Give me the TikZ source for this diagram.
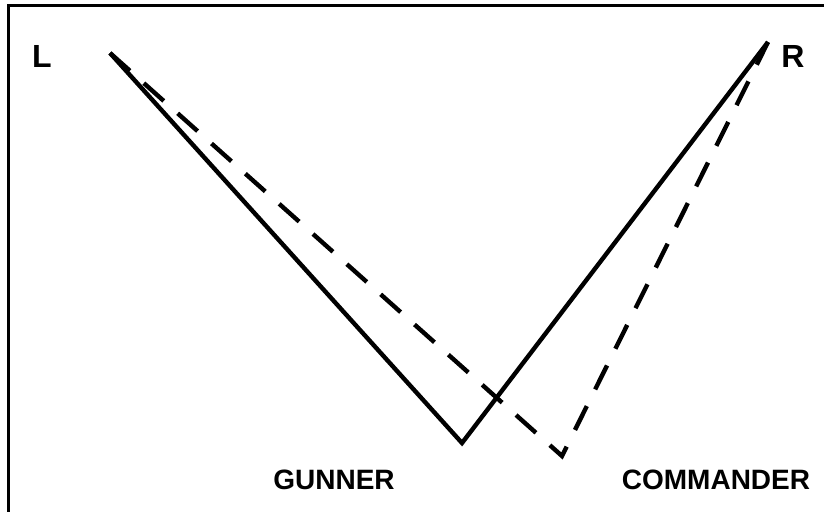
\documentclass[tikz,border=0pt]{standalone}
\usepackage{fontspec}
\setsansfont{Liberation Sans}
\usetikzlibrary{positioning}

\begin{document}
\begin{tikzpicture}[x=0.75pt,y=-0.75pt,
  every node/.style={font=\fontsize{21}{21}\selectfont\bfseries\sffamily},
  sight/.style={line width=3.3pt,line join=miter},
  sightdash/.style={sight,dash pattern=on 20pt off 14pt}]
  \useasboundingbox (0,0) rectangle (824,512);
  \draw[line width=2.25pt] (824,5) -- (8,5) -- (8,512);
  % aiming points and the two sighting paths
  \coordinate (tipL) at (110,53);
  \coordinate (tipR) at (768,42);
  \coordinate (gun) at (462,443);
  \coordinate (cmd) at (562,456);
  \node[font=\fontsize{24}{24}\selectfont\bfseries\sffamily] (L) at (42,56) {L};
  \node[font=\fontsize{24}{24}\selectfont\bfseries\sffamily] (R) at (793,56) {R};
  \node (gunner) at (334,480) {GUNNER};
  \node (commander) at (716,480) {COMMANDER};
  \draw[sight] (tipL) -- (gun) -- (tipR);
  \draw[sightdash] (tipL) -- (cmd) -- (tipR);
\end{tikzpicture}
\end{document}
